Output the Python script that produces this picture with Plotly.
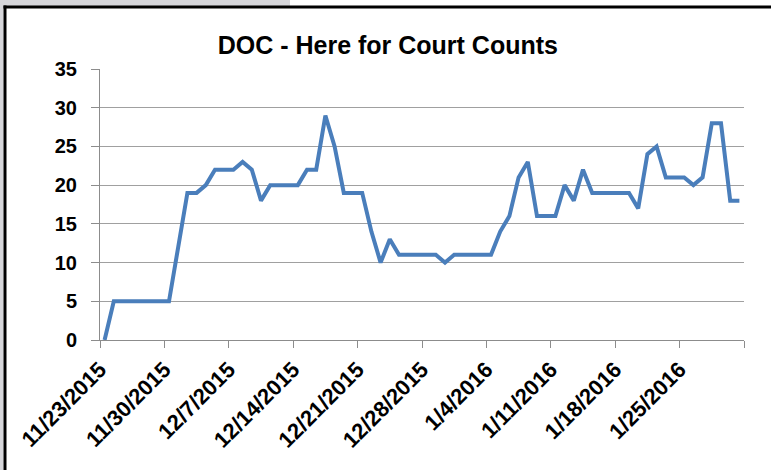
import plotly.graph_objects as go
import pandas as pd

start_date = "2015-11-23"
counts = [0, 5, 5, 5, 5, 5, 5, 5, 12, 19,
          19, 20, 22, 22, 22, 23, 22, 18, 20, 20,
          20, 20, 22, 22, 29, 25, 19, 19, 19, 14,
          10, 13, 11, 11, 11, 11, 11, 10, 11, 11,
          11, 11, 11, 14, 16, 21, 23, 16, 16, 16,
          20, 18, 22, 19, 19, 19, 19, 19, 17, 24,
          25, 21, 21, 21, 20, 21, 28, 28, 18, 18]
dates = pd.date_range(start_date, periods=len(counts), freq="D")

tick_dates = pd.date_range(start_date, "2016-02-01", freq="7D")
tick_text = [f"{d.month}/{d.day}/{d.year}" for d in tick_dates[:-1]] + [""]
y_ticks = [0, 5, 10, 15, 20, 25, 30, 35]

FONT = "Liberation Sans"
AXIS_GRAY = "#8c8c8c"

fig = go.Figure()
fig.add_trace(go.Scatter(
    x=dates, y=counts, mode="lines",
    xperiod=86400000, xperiodalignment="middle",
    line=dict(color="#4a7ebb", width=4),
    showlegend=False, hoverinfo="skip",
))

fig.update_layout(
    width=771, height=470,
    margin=dict(l=100, r=27, t=69, b=130, autoexpand=False),
    paper_bgcolor="white", plot_bgcolor="white",
    title=dict(text="DOC - Here for Court Counts",
               font=dict(family=FONT, size=25, color="black", weight="bold"),
               x=0.503, xanchor="center", xref="container",
               y=1 - 45 / 470, yanchor="middle", yref="container"),
    xaxis=dict(type="date",
               range=[tick_dates[0], tick_dates[-1]],
               tickmode="array", tickvals=list(tick_dates), ticktext=tick_text,
               tickangle=-45,
               tickfont=dict(family=FONT, size=22, color="black", weight="bold"),
               ticks="outside", ticklen=7, tickcolor=AXIS_GRAY, tickwidth=1,
               showline=True, linecolor=AXIS_GRAY, linewidth=1,
               showgrid=False, zeroline=False, automargin=False),
    yaxis=dict(range=[0, 35], tickmode="array", tickvals=y_ticks,
               tickfont=dict(family=FONT, size=20, color="black", weight="bold"),
               ticks="outside", ticklen=8, tickcolor=AXIS_GRAY, tickwidth=1,
               ticklabelstandoff=10,
               showline=True, linecolor=AXIS_GRAY, linewidth=1,
               showgrid=True, gridcolor="#a0a0a0", gridwidth=1,
               zeroline=False, automargin=False),
)

# Frame decorations (spreadsheet background + chart border), in paper units
W_PLOT, H_PLOT, L, B = 644, 271, 100, 130
def px_x(p):
    return (p - L) / W_PLOT
def px_y(p):
    return (470 - B - p) / H_PLOT

fig.add_shape(type="rect", xref="paper", yref="paper",
              x0=px_x(0), x1=px_x(290), y0=px_y(0), y1=px_y(6),
              fillcolor="#d6d6da", line_width=0, layer="below")
fig.add_shape(type="rect", xref="paper", yref="paper",
              x0=px_x(0), x1=px_x(3.5), y0=px_y(0), y1=px_y(470),
              fillcolor="#d6d6da", line_width=0, layer="below")
fig.add_shape(type="rect", xref="paper", yref="paper",
              x0=px_x(3.5), x1=px_x(771), y0=px_y(5.5), y1=px_y(8.5),
              fillcolor="black", line_width=0, layer="above")
fig.add_shape(type="rect", xref="paper", yref="paper",
              x0=px_x(3.5), x1=px_x(6.5), y0=px_y(5.5), y1=px_y(470),
              fillcolor="black", line_width=0, layer="above")

fig.write_html("out.html", config={"displayModeBar": False},
               post_script="document.body.style.margin='0';document.body.style.overflow='hidden';")
